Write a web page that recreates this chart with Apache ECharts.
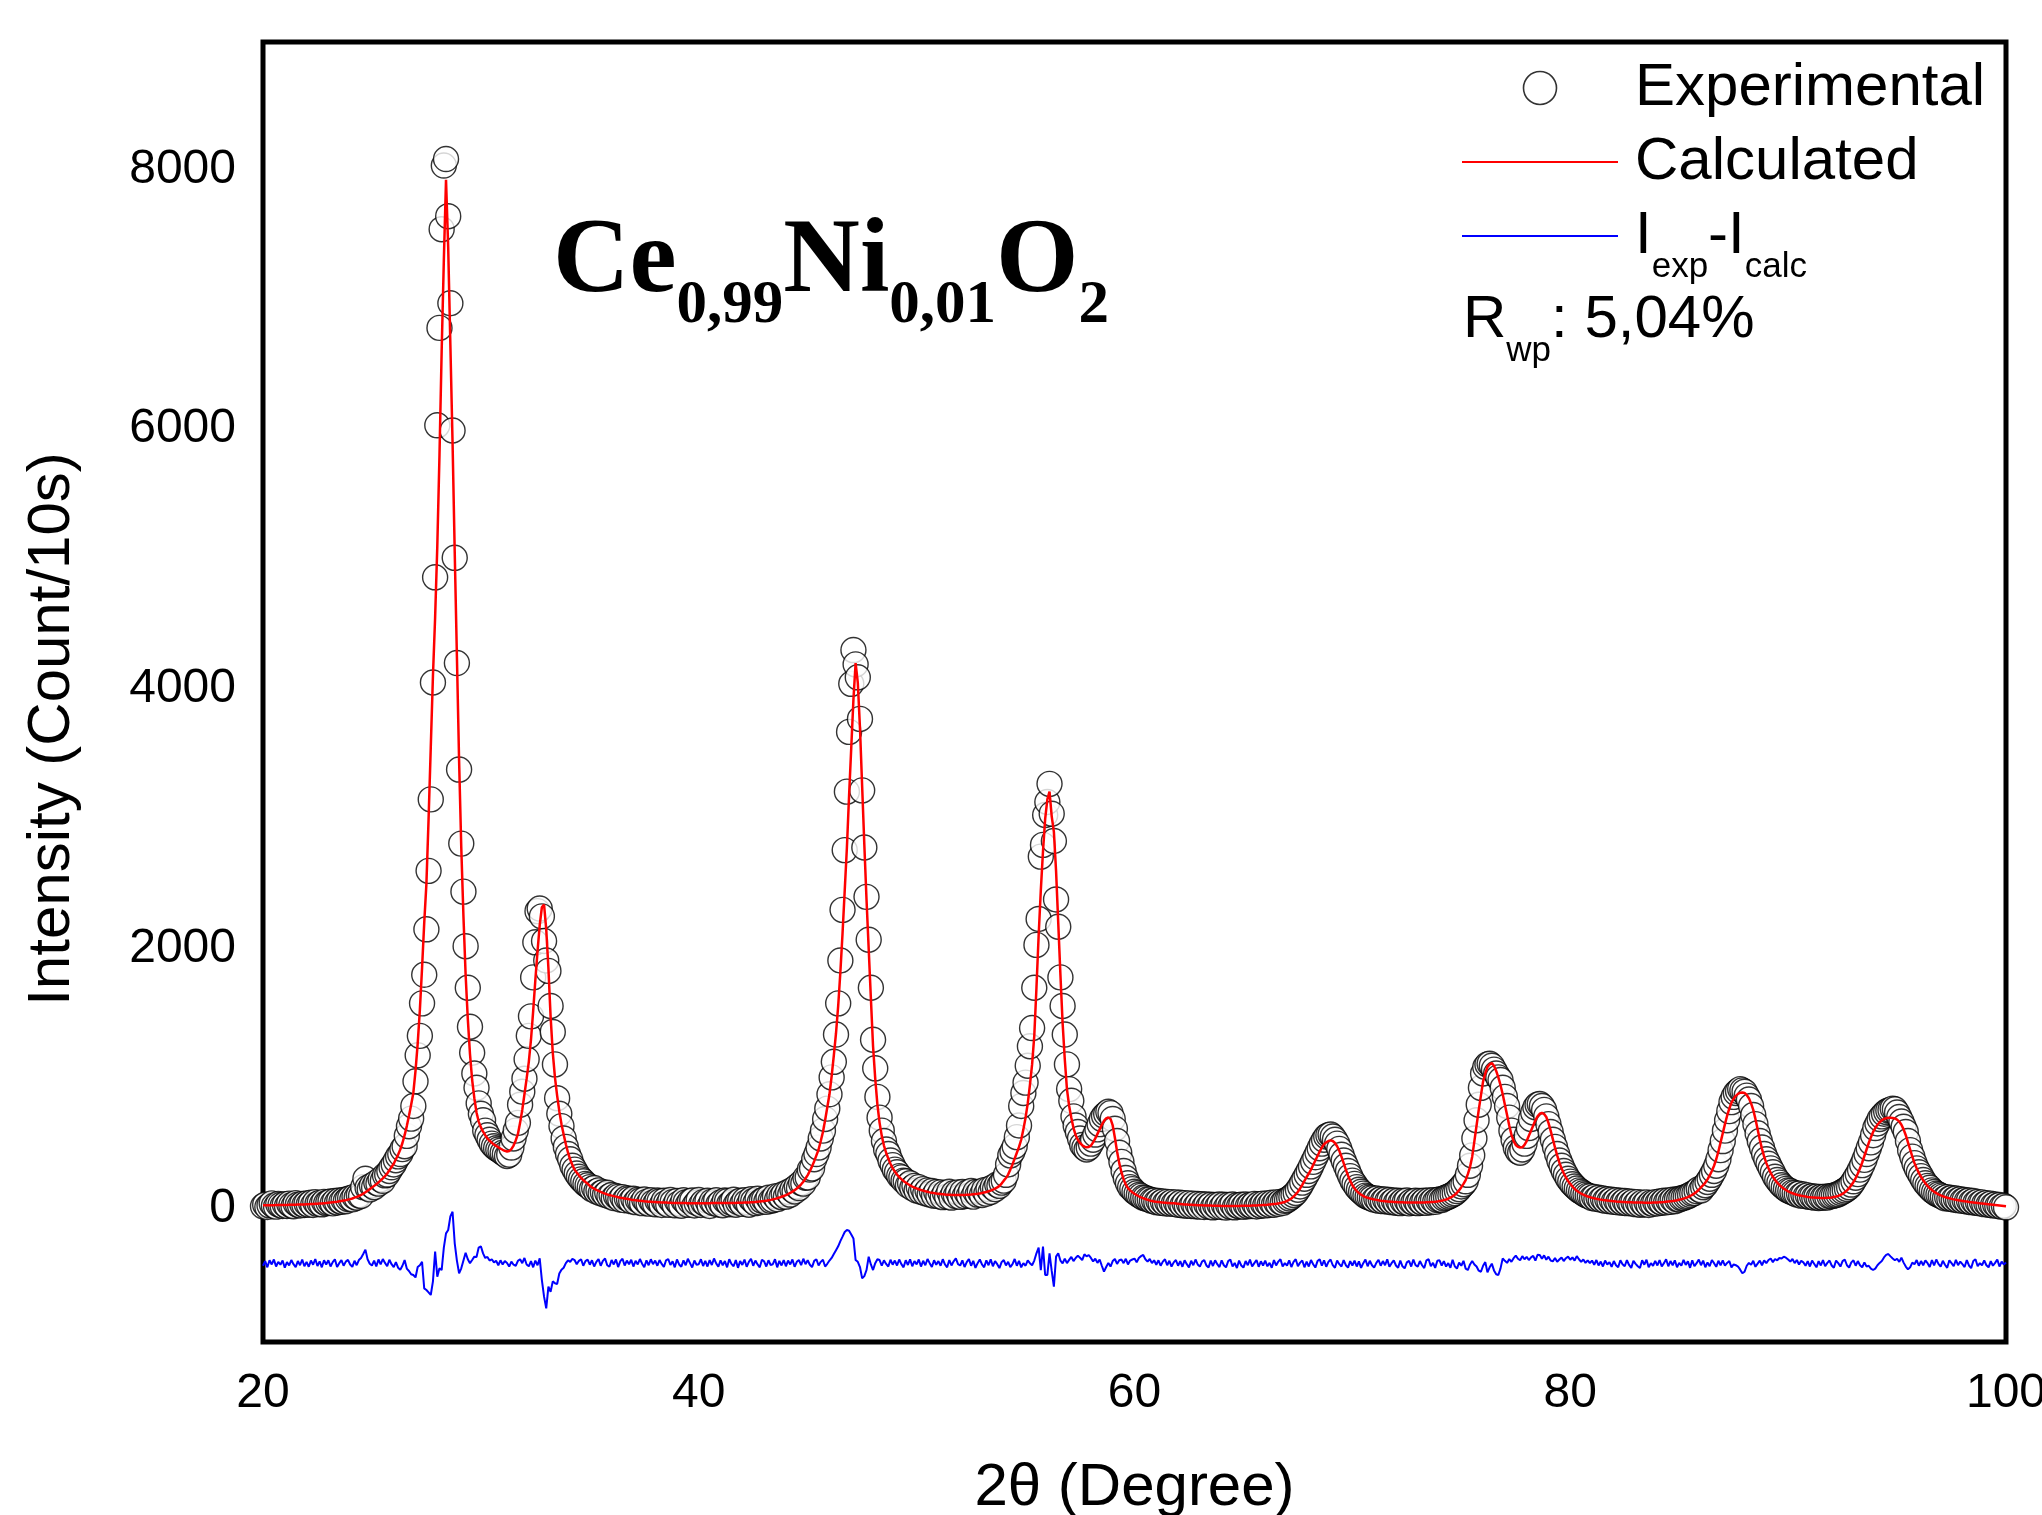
<!DOCTYPE html>
<html>
<head>
<meta charset="utf-8">
<script src="https://cdn.jsdelivr.net/npm/echarts@6/dist/echarts.min.js"></script>
<style>
html,body{margin:0;padding:0;background:#fff;}
#chart{width:2042px;height:1515px;}
</style>
</head>
<body>
<div id="chart"></div>
<script>
// scan grid of the diffractogram (2theta, degrees)
const scanStart = 20
const scanStep = 0.1

// y tick labels
const yTickValues = [0, 2000, 4000, 6000, 8000]

// measured intensity (circles), one row per degree
const expIntensity = [
  18,30,12,25,40,22,15,35,28,20,
  33,20,38,26,18,42,30,24,36,28,
  40,31,45,28,50,36,44,33,52,41,
  48,55,40,58,47,62,53,66,57,74,
  80,71,92,84,104,98,165,230,160,148,
  178,165,200,192,225,214,256,262,290,318,
  340,372,402,420,458,480,560,634,693,790,
  980,1180,1330,1580,1800,2150,2600,3150,4050,4860,
  6030,6780,7540,8030,8080,7640,6970,5990,5010,4200,
  3380,2810,2440,2020,1700,1400,1200,1040,930,810,
  730,680,600,565,530,500,480,465,455,445,
  430,420,405,415,470,540,600,660,800,900,
  1000,1150,1330,1480,1780,2050,2290,2310,2250,2060,
  1910,1830,1560,1360,1110,850,730,635,540,475,
  420,380,330,300,270,245,225,210,190,180,
  165,150,158,132,140,118,126,108,122,96,
  105,82,98,90,70,88,64,80,72,58,
  76,50,68,60,42,70,52,38,64,46,
  34,62,55,28,60,44,30,66,50,26,
  58,40,22,64,48,30,56,62,24,45,
  66,28,50,38,60,20,54,42,64,32,
  48,26,62,56,34,46,68,30,52,60,
  36,64,50,30,72,58,42,76,48,62,
  70,52,84,60,66,94,72,100,88,112,
  92,128,108,145,132,170,158,198,192,238,
  240,300,310,380,420,470,540,600,690,770,
  880,1010,1130,1340,1580,1910,2300,2760,3210,3670,
  4040,4300,4190,4090,3770,3220,2780,2400,2070,1700,
  1300,1080,860,700,600,520,455,420,370,335,
  300,280,250,240,215,210,180,195,160,175,
  140,165,130,150,118,140,110,135,100,128,
  95,125,88,120,92,130,85,118,98,125,
  90,128,95,122,100,135,92,128,108,130,
  105,142,115,150,128,165,150,185,175,200,
  215,260,340,410,440,480,550,640,790,890,
  970,1100,1250,1390,1700,2030,2230,2710,2800,3030,
  3130,3270,3040,2830,2380,2170,1780,1560,1340,1110,
  920,830,710,640,590,540,490,470,455,470,
  500,530,570,610,650,690,715,730,745,735,
  690,615,520,430,360,290,235,195,165,150,
  130,118,105,98,85,82,72,70,60,62,
  50,58,44,55,40,52,38,50,36,48,
  30,45,26,42,22,40,20,38,18,35,
  15,34,12,32,16,30,10,28,14,32,
  12,30,8,28,15,32,10,26,18,30,
  14,32,18,28,20,36,16,34,22,38,
  25,40,28,45,30,48,36,52,44,60,
  65,78,90,105,120,145,170,200,230,260,
  290,325,360,395,430,465,500,530,555,565,
  570,555,530,500,460,415,370,330,290,250,
  215,190,165,145,130,115,100,92,85,80,
  68,78,62,72,58,70,55,66,50,62,
  45,60,42,58,48,62,40,55,46,60,
  42,58,45,60,44,62,50,64,52,66,
  70,66,78,85,92,100,109,118,135,150,
  170,188,210,260,330,410,540,680,800,930,
  1040,1090,1110,1115,1100,1070,1040,1010,990,930,
  860,790,700,600,530,470,440,430,455,500,
  560,620,690,740,780,800,805,790,760,710,
  650,590,530,475,420,370,330,290,260,230,
  208,188,170,155,140,130,118,108,100,95,
  82,90,75,84,68,78,62,72,58,68,
  52,64,48,60,45,58,42,55,40,52,
  35,50,30,46,32,48,28,44,36,50,
  40,55,45,60,48,62,52,68,58,72,
  70,80,82,90,95,105,115,120,135,150,
  140,165,180,205,230,260,290,330,380,450,
  520,600,680,750,820,860,890,905,920,910,
  900,870,840,790,720,650,580,520,470,420,
  380,345,310,280,245,220,200,180,165,152,
  140,135,125,120,110,115,100,108,95,102,
  90,95,85,92,82,90,84,92,86,95,
  95,102,105,112,120,130,140,152,165,185,
  210,238,265,300,335,375,420,465,510,565,
  620,655,690,710,730,745,755,760,770,765,
  740,705,670,630,590,520,450,400,350,310,
  280,250,220,195,175,160,140,128,115,108,
  100,92,80,88,76,82,70,78,65,72,
  60,66,55,62,50,58,45,52,40,48,
  35,42,30,38,25,32,20,28,15,22,
  10
]

// refined (calculated) profile
const calcIntensity = [
  25,25,25,26,26,26,27,27,27,28,
  28,28,29,29,30,30,31,31,32,32,
  33,34,35,36,37,38,39,40,42,43,
  45,47,49,51,53,56,59,62,65,69,
  73,78,84,90,97,105,115,126,138,150,
  162,175,188,202,217,233,250,270,295,320,
  345,380,415,455,505,565,635,715,800,890,
  1060,1270,1530,1850,2200,2500,3000,3550,4100,4550,
  5100,5800,6600,7300,7920,7400,6650,5900,5050,4250,
  3450,2780,2250,1800,1460,1190,990,850,740,670,
  625,592,565,540,522,507,494,483,472,462,
  453,445,440,444,458,485,525,575,660,760,
  880,1000,1130,1300,1520,1760,1980,2180,2320,2340,
  2150,1850,1480,1200,1010,870,750,650,570,495,
  430,378,335,300,277,256,237,220,205,192,
  175,163,153,144,136,128,121,115,109,104,
  100,96,92,88,84,81,78,75,72,69,
  67,64,62,60,58,56,55,53,52,51,
  50,49,48,47,46,46,45,45,44,44,
  44,43,43,43,43,42,42,42,42,42,
  42,42,42,42,42,42,43,43,43,43,
  43,43,43,43,44,44,44,44,45,45,
  45,46,46,47,48,49,50,52,54,56,
  58,61,64,67,71,75,80,85,91,97,
  104,112,121,131,142,155,170,187,207,232,
  258,290,325,365,410,455,520,590,680,780,
  880,1020,1180,1350,1560,1820,2120,2450,2780,3180,
  3550,3920,4200,4050,3700,3250,2800,2380,2000,1620,
  1250,1000,800,660,560,485,430,385,345,312,
  285,262,243,227,213,200,189,179,170,162,
  155,149,143,138,133,129,125,122,119,116,
  114,112,110,108,107,106,105,105,104,104,
  104,104,105,106,107,108,110,112,114,117,
  120,124,128,133,139,146,154,163,175,193,
  215,235,262,300,340,385,430,475,530,610,
  700,810,950,1110,1330,1700,2100,2450,2750,3000,
  3150,3210,3020,2900,2600,2200,1800,1430,1150,920,
  790,700,620,565,530,505,488,477,472,474,
  485,510,540,575,610,645,675,695,702,690,
  640,545,440,350,280,225,185,158,140,126,
  114,104,95,87,80,74,68,63,59,55,
  52,50,48,46,45,44,43,42,41,40,
  38,36,34,32,31,30,29,28,27,26,
  25,25,24,24,23,23,22,22,21,21,
  20,20,20,20,20,20,20,20,20,21,
  21,21,22,22,23,23,24,25,26,27,
  28,29,31,33,35,37,40,43,47,51,
  60,68,78,92,110,130,155,183,213,243,
  270,300,335,370,405,440,470,495,510,520,
  525,520,505,480,445,400,350,300,255,215,
  180,155,135,120,107,97,89,83,78,74,
  70,67,64,61,59,57,55,53,52,51,
  50,49,48,48,47,47,46,46,46,46,
  46,46,47,47,48,49,50,51,53,55,
  58,61,65,70,76,84,94,106,122,142,
  165,190,220,265,320,400,520,640,760,870,
  980,1040,1090,1110,1120,1100,1060,1010,950,880,
  800,720,640,570,520,490,475,470,472,490,
  520,560,600,640,680,710,730,737,728,705,
  660,600,535,470,410,355,310,272,240,212,
  190,170,152,138,126,116,107,100,93,88,
  83,79,75,72,69,66,64,62,60,58,
  56,54,53,52,51,50,49,48,48,47,
  47,46,46,46,45,45,45,45,46,46,
  47,48,49,50,52,54,56,58,61,64,
  68,72,77,82,89,97,106,117,130,145,
  163,180,200,225,255,290,330,380,440,510,
  580,650,715,770,815,845,868,883,892,894,
  890,875,850,810,760,690,610,530,460,400,
  350,310,275,245,220,200,182,167,154,143,
  133,125,118,112,107,103,99,96,93,90,
  88,86,85,84,83,82,82,82,83,84,
  86,89,93,98,105,114,126,140,158,180,
  205,235,270,310,355,405,455,505,550,590,
  620,645,665,680,690,696,700,700,698,694,
  685,670,645,610,565,510,455,400,350,310,
  275,245,218,195,175,158,143,130,119,110,
  102,95,89,84,79,75,71,68,65,62,
  59,56,54,51,49,47,45,43,41,40,
  38,36,34,32,30,28,26,24,22,20,
  18
]

// difference curve Iexp - Icalc, plotted with its offset
const diffIntensity = [
  -440,-405,-452,-398,-430,-392,-446,-410,-432,-400,
  -455,-412,-438,-396,-428,-450,-404,-436,-392,-444,
  -410,-448,-400,-432,-388,-442,-406,-452,-398,-430,
  -398,-446,-412,-390,-450,-420,-396,-440,-408,-395,
  -430,-448,-402,-436,-396,-380,-350,-316,-390,-425,
  -438,-400,-446,-392,-430,-388,-418,-444,-394,-428,
  -450,-412,-455,-470,-440,-396,-462,-480,-505,-511,
  -530,-450,-436,-410,-614,-627,-645,-665,-560,-330,
  -524,-460,-473,-300,-191,-165,-60,-24,-267,-400,
  -498,-460,-400,-340,-390,-420,-396,-370,-372,-300,
  -290,-345,-380,-372,-400,-390,-414,-402,-436,-398,
  -430,-404,-418,-446,-408,-432,-440,-402,-390,-420,
  -380,-430,-444,-405,-452,-400,-436,-383,-550,-678,
  -768,-601,-640,-560,-575,-580,-500,-470,-455,-420,
  -398,-410,-386,-396,-428,-402,-390,-440,-404,-392,
  -432,-398,-446,-410,-388,-440,-402,-384,-436,-448,
  -396,-430,-392,-450,-404,-386,-438,-400,-428,-394,
  -446,-402,-430,-388,-424,-452,-398,-436,-390,-428,
  -400,-440,-396,-426,-450,-398,-388,-434,-406,-452,
  -392,-430,-448,-398,-436,-386,-420,-454,-400,-432,
  -428,-390,-442,-402,-446,-396,-434,-384,-422,-448,
  -398,-436,-404,-452,-390,-426,-444,-396,-456,-404,
  -434,-392,-448,-410,-386,-440,-400,-430,-452,-394,
  -406,-446,-398,-434,-428,-390,-452,-402,-438,-396,
  -444,-400,-430,-392,-448,-410,-396,-436,-386,-428,
  -398,-432,-450,-402,-390,-438,-410,-394,-446,-425,
  -400,-380,-350,-320,-290,-250,-216,-180,-165,-170,
  -200,-230,-396,-410,-450,-537,-520,-473,-370,-430,
  -473,-420,-390,-396,-440,-398,-426,-446,-394,-432,
  -400,-438,-392,-428,-452,-398,-434,-390,-444,-404,
  -430,-392,-446,-402,-436,-388,-420,-450,-398,-432,
  -404,-440,-390,-430,-452,-396,-438,-406,-384,-428,
  -438,-398,-450,-412,-388,-440,-402,-456,-420,-392,
  -430,-452,-398,-436,-390,-444,-404,-428,-458,-412,
  -396,-438,-410,-450,-428,-388,-440,-402,-452,-420,
  -440,-398,-420,-436,-400,-344,-300,-473,-293,-511,
  -511,-344,-480,-601,-370,-344,-400,-421,-385,-420,
  -395,-372,-404,-380,-362,-378,-396,-352,-368,-357,
  -380,-406,-386,-418,-392,-440,-485,-450,-418,-446,
  -404,-388,-426,-398,-392,-420,-386,-430,-400,-392,
  -385,-414,-380,-366,-357,-390,-408,-388,-420,-398,
  -432,-398,-440,-408,-390,-436,-402,-446,-414,-396,
  -440,-404,-448,-398,-428,-452,-402,-436,-392,-430,
  -446,-408,-396,-438,-454,-400,-442,-398,-428,-450,
  -398,-436,-452,-404,-392,-446,-418,-458,-400,-438,
  -454,-404,-436,-392,-446,-420,-396,-448,-406,-438,
  -400,-444,-418,-456,-396,-438,-408,-390,-446,-420,
  -438,-398,-450,-410,-390,-444,-416,-400,-452,-408,
  -446,-396,-428,-454,-404,-390,-440,-398,-448,-410,
  -392,-436,-456,-400,-428,-446,-396,-436,-454,-404,
  -438,-400,-446,-406,-456,-420,-392,-444,-402,-436,
  -454,-418,-394,-440,-404,-436,-390,-448,-420,-398,
  -438,-456,-400,-444,-460,-414,-402,-446,-392,-436,
  -446,-404,-436,-458,-398,-390,-444,-418,-456,-402,
  -398,-438,-404,-446,-420,-456,-394,-444,-462,-416,
  -440,-402,-462,-473,-430,-404,-430,-446,-478,-486,
  -440,-412,-490,-452,-424,-476,-505,-511,-460,-383,
  -402,-418,-388,-410,-382,-362,-386,-398,-366,-390,
  -372,-396,-376,-364,-400,-356,-357,-386,-360,-394,
  -370,-400,-406,-380,-410,-392,-376,-404,-382,-370,
  -394,-376,-400,-366,-390,-410,-392,-418,-398,-420,
  -400,-432,-396,-438,-408,-446,-400,-430,-412,-448,
  -404,-436,-452,-398,-428,-444,-396,-434,-456,-402,
  -426,-444,-458,-398,-432,-394,-452,-420,-440,-402,
  -438,-396,-446,-420,-390,-444,-404,-436,-398,-452,
  -418,-440,-394,-434,-406,-456,-398,-444,-420,-392,
  -436,-400,-452,-414,-444,-396,-420,-448,-402,-436,
  -398,-440,-418,-404,-452,-430,-436,-446,-470,-498,
  -486,-440,-418,-432,-402,-448,-424,-400,-436,-398,
  -420,-396,-384,-412,-388,-398,-380,-384,-370,-378,
  -392,-408,-388,-420,-396,-430,-402,-414,-440,-404,
  -446,-400,-426,-452,-404,-438,-396,-444,-418,-400,
  -438,-456,-400,-420,-446,-404,-392,-436,-454,-414,
  -398,-440,-404,-436,-452,-414,-446,-440,-462,-473,
  -462,-436,-418,-404,-376,-356,-350,-368,-384,-398,
  -386,-410,-378,-416,-446,-468,-452,-416,-428,-396,
  -440,-404,-436,-398,-420,-450,-396,-438,-392,-426,
  -446,-402,-432,-456,-398,-420,-444,-394,-436,-408,
  -428,-450,-396,-438,-458,-404,-390,-444,-420,-436,
  -398,-436,-452,-404,-440,-418,-392,-446,-408,-430,
  -415
]

const SANS = '"Liberation Sans", Arial, sans-serif'
const SERIF = '"Liberation Serif", "Times New Roman", serif'

function toPairs(vals) {
  return vals.map((v, i) => [+(scanStart + i * scanStep).toFixed(1), v])
}

//下标样式: 图例第三项
const legendRich = {
  m: { fontSize: 60, fontFamily: SANS, lineHeight: 70 },
  s: { fontSize: 35, fontFamily: SANS, lineHeight: 70, height: 7, verticalAlign: 'bottom' }
}
//下标样式: Rwp
const rwpRich = {
  m: { fontSize: 60, fontFamily: SANS, lineHeight: 66 },
  s: { fontSize: 35, fontFamily: SANS, lineHeight: 66, padding: [63, 0, 0, 0] }
}

let myChart = echarts.init(document.getElementById('chart'))
let options = {
  animation: false,
  backgroundColor: '#fff',
  grid: {
    left: 263, right: 36, top: 42, bottom: 173,
    outerBoundsMode: 'none', containLabel: false,
    show: true, borderColor: '#000', borderWidth: 5
  },
  xAxis: {
    type: 'value', min: 20, max: 100, interval: 20,
    axisLine: { show: false }, axisTick: { show: false }, splitLine: { show: false },
    axisLabel: { fontSize: 48, fontFamily: SANS, color: '#000', margin: 28 },
    name: '2θ (Degree)', nameLocation: 'middle', nameGap: 116,
    nameTextStyle: { fontSize: 60, fontFamily: SANS, color: '#000' }
  },
  yAxis: {
    type: 'value', min: -1027, max: 8981,
    axisLine: { show: false }, axisTick: { show: false }, splitLine: { show: false },
    axisLabel: {
      customValues: yTickValues, fontSize: 48, fontFamily: SANS, color: '#000', margin: 27,
      formatter: (v) => String(v)
    }
  },
  legend: {
    orient: 'vertical', left: 1461, top: 53, padding: 0,
    itemWidth: 156, itemHeight: 33, itemGap: 4, selectedMode: false,
    data: [
      { name: 'Experimental', icon: 'circle', itemStyle: { color: '#fff', borderColor: '#000', borderWidth: 1.6 } },
      { name: 'Calculated', itemStyle: { opacity: 0 }, lineStyle: { color: '#ff0000', width: 2, opacity: 1 } },
      { name: 'I_exp-I_calc', itemStyle: { opacity: 0 }, lineStyle: { color: '#0000ff', width: 2, opacity: 1 } }
    ],
    formatter: (name) => name === 'I_exp-I_calc' ? '{m|I}{s|exp}{m|-I}{s|calc}' : name,
    textStyle: {
      fontSize: 60, fontFamily: SANS, color: '#000', lineHeight: 70,
      padding: [0, 0, 0, 12], rich: legendRich
    }
  },
  graphic: [
    {
      type: 'text', x: 553, y: 264, silent: true,
      style: {
        text: '{m|Ce}{s|0,99}{m|Ni}{s|0,01}{m|O}{s|2}',
        fill: '#000', align: 'left', verticalAlign: 'middle',
        rich: {
          m: { fontSize: 106, fontFamily: SERIF, fontWeight: 'bold', lineHeight: 110 },
          s: { fontSize: 61, fontFamily: SERIF, fontWeight: 'bold', lineHeight: 110, padding: [84, 0, 0, 0] }
        }
      }
    },
    {
      type: 'text', x: 1463, y: 320, silent: true,
      style: {
        text: '{m|R}{s|wp}{m|: 5,04%}',
        fill: '#000', align: 'left', verticalAlign: 'middle', rich: rwpRich
      }
    },
    {
      type: 'text', x: 52, y: 729, rotation: Math.PI / 2, silent: true,
      style: {
        text: 'Intensity (Count/10s)', fill: '#000',
        fontSize: 60, fontFamily: SANS, align: 'center', verticalAlign: 'middle'
      }
    }
  ],
  series: [
    {
      name: 'Experimental', type: 'scatter',
      data: toPairs(expIntensity),
      symbol: 'circle', symbolSize: 25,
      itemStyle: { color: '#fff', borderColor: '#000', borderWidth: 1.4 },
      emphasis: { disabled: true }
    },
    {
      name: 'Calculated', type: 'line',
      data: toPairs(calcIntensity),
      symbol: 'none', showSymbol: false,
      lineStyle: { color: '#ff0000', width: 2.5 },
      itemStyle: { color: '#ff0000' },
      emphasis: { disabled: true }
    },
    {
      name: 'I_exp-I_calc', type: 'line',
      data: toPairs(diffIntensity),
      symbol: 'none', showSymbol: false,
      lineStyle: { color: '#0000ff', width: 2 },
      itemStyle: { color: '#0000ff' },
      emphasis: { disabled: true }
    }
  ]
}
myChart.setOption(options)
</script>
</body>
</html>
